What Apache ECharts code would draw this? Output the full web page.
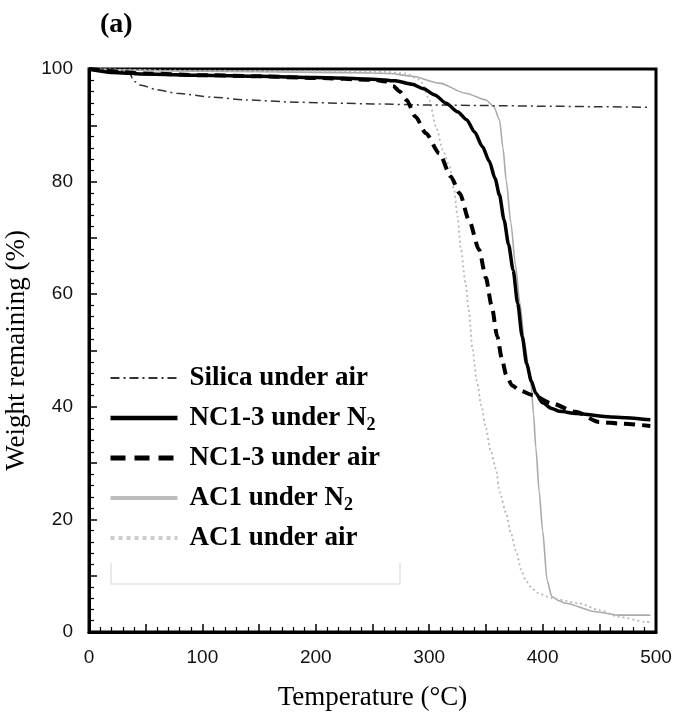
<!DOCTYPE html>
<html>
<head>
<meta charset="utf-8">
<script src="https://cdn.jsdelivr.net/npm/echarts@6/dist/echarts.min.js"></script>
<style>html,body{margin:0;padding:0;background:#fff}#c{width:684px;height:720px}</style>
</head>
<body>
<div id="c"></div>
<script>
// Temperature (°C), weight remaining (%)
const silicaAir = [[0,100],[20,99.7],[35,99.5],[40,97.8],[46,97.1],[60,96.3],[77,95.7],[109,95.0],[139,94.5],[183,94.1],[227,93.9],[250,93.8],[300,93.6],[350,93.5],[400,93.4],[450,93.3],[495,93.2]];
const nc13N2 = [[0,100],[20,99.4],[50,99.1],[100,98.9],[150,98.7],[200,98.5],[250,98.2],[270,97.9],[285,97.3],[295,96.5],[305,95.4],[315,93.9],[325,92.4],[333,91.0],[340,88.8],[347,86.2],[353,83.6],[358,80.6],[362,77.6],[366,73.2],[370,68.8],[374,64.3],[378,58.4],[382,52.5],[386,47.6],[390,44.6],[394,42.4],[400,40.7],[408,39.7],[415,39.2],[430,38.8],[460,38.2],[495,37.7]];
const nc13Air = [[0,100],[50,99.2],[100,98.9],[150,98.7],[200,98.4],[250,98.1],[262,97.8],[268,97.0],[274,96.0],[280,94.5],[288,91.5],[297,88.6],[309,85.0],[319,80.9],[327,77.9],[335,73.2],[344,67.9],[350,62.9],[355,58.0],[360,52.5],[364,48.6],[368,45.6],[373,43.8],[380,42.9],[391,42.1],[408,40.6],[429,39.1],[450,37.3],[470,37.0],[495,36.6]];
const ac1N2 = [[0,100],[100,99.6],[200,99.4],[250,99.3],[265,99.2],[285,98.7],[309,97.5],[332,95.7],[350,94.5],[357,93.3],[362,91.0],[365,86.0],[368,80.1],[372,72.7],[376,65.3],[380,58.4],[384,51.5],[388,46.6],[390,43.6],[392,38.7],[394,32.8],[397,24.9],[400,18.0],[404,9.2],[408,6.3],[415,5.5],[420,5.1],[447,3.6],[467,3.0],[495,3.0]];
const ac1Air = [[0,100],[100,99.7],[200,99.6],[260,99.5],[280,99.2],[290,98.2],[294,97.5],[300,94.5],[306,89.8],[312,85.6],[318,82.7],[322,78.5],[325,73.8],[328,67.9],[332,62.0],[335,57.0],[338,50.5],[342,44.6],[346,40.2],[350,36.2],[354,32.3],[359,28.9],[362,24.9],[368,21.0],[372,17.5],[377,14.1],[381,11.1],[385,9.2],[390,7.9],[395,7.0],[408,6.0],[432,5.1],[450,3.9],[467,2.7],[491,1.8],[495,1.7]];
const seriesNames = ['Silica under air','NC1-3 under N2','NC1-3 under air','AC1 under N2','AC1 under air'];
const xLabels = [0,100,200,300,400,500];
const yLabels = [0,20,40,60,80,100];

const chart = echarts.init(document.getElementById('c'), null, {renderer:'canvas'});
const serif = 'Liberation Serif';
const sans = 'Liberation Sans';
function mk(name, data, color, width, type, z) {
  return {name, type:'line', data, showSymbol:false, symbol:'none', smooth:0.25, smoothMonotone:'x',
    lineStyle:{color, width, type}, itemStyle:{color}, z, animation:false};
}
const hidden = {color:'rgba(0,0,0,0)', borderWidth:0, opacity:0};
chart.setOption({
  animation:false,
  backgroundColor:'#fff',
  grid:{left:89, right:28, top:69, bottom:88, outerBoundsMode:'none', containLabel:false,
    show:true, borderColor:'#000', borderWidth:3, backgroundColor:'transparent'},
  title:{text:'(a)', left:95, top:6, textStyle:{fontFamily:serif, fontWeight:'bold', fontSize:28, color:'#000'}},
  xAxis:{type:'value', min:0, max:500, interval:50,
    name:'Temperature (°C)', nameLocation:'middle', nameGap:52,
    nameTextStyle:{fontFamily:serif, fontSize:27, color:'#000'},
    axisLine:{show:true, lineStyle:{color:'#000', width:3}},
    axisTick:{show:true, inside:true, length:8, lineStyle:{color:'#000', width:1.5}},
    minorTick:{show:true, splitNumber:5, length:5, lineStyle:{color:'#000', width:1.2}},
    splitLine:{show:false},
    axisLabel:{margin:16, fontFamily:sans, fontSize:19, color:'#111',
      formatter:v => xLabels.indexOf(v) >= 0 ? String(v) : ''}
  },
  yAxis:{type:'value', min:0, max:100, interval:10,
    name:'Weight remaining (%)', nameLocation:'middle', nameGap:50,
    nameTextStyle:{fontFamily:serif, fontSize:27, color:'#000'},
    axisLine:{show:true, lineStyle:{color:'#000', width:3}},
    axisTick:{show:true, inside:true, length:8, lineStyle:{color:'#000', width:1.5}},
    minorTick:{show:true, splitNumber:5, length:5, lineStyle:{color:'#000', width:1.2}},
    splitLine:{show:false},
    axisLabel:{margin:16, fontFamily:sans, fontSize:19, color:'#111', padding:[0,0,10,0],
      formatter:v => yLabels.indexOf(v) >= 0 ? String(v) : ''}
  },
  legend:{orient:'vertical', left:108, top:358, padding:0, itemWidth:67, itemHeight:14, itemGap:0,
    itemStyle:hidden,
    textStyle:{fontFamily:serif, fontWeight:'bold', fontSize:27, color:'#000', lineHeight:40, padding:[0,0,0,7],
      rich:{sub:{fontFamily:serif, fontWeight:'bold', fontSize:18, color:'#000', padding:[14,0,0,0], lineHeight:40}}},
    formatter:n => n.replace(/N2$/, 'N{sub|2}'),
    data:[
      {name:seriesNames[0], itemStyle:hidden, lineStyle:{width:2, color:'#333', type:[9,4,2,4]}},
      {name:seriesNames[1], itemStyle:hidden, lineStyle:{width:4.5, color:'#000'}},
      {name:seriesNames[2], itemStyle:hidden, lineStyle:{width:5, color:'#000', type:[15,9]}},
      {name:seriesNames[3], itemStyle:hidden, lineStyle:{width:4, color:'#bdbdbd'}},
      {name:seriesNames[4], itemStyle:hidden, lineStyle:{width:4, color:'#cccccc', type:[4,4]}}
    ]
  },
  graphic:[
    {type:'polyline', z:1, shape:{points:[[111,563],[111,584],[400,584],[400,563]]}, style:{stroke:'#e4e4e4', lineWidth:1.5, fill:null}}
  ],
  series:[
    mk(seriesNames[3], ac1N2, '#aaaaaa', 1.6, 'solid', 2),
    mk(seriesNames[4], ac1Air, '#b8b8b8', 1.8, [2,3], 2),
    mk(seriesNames[0], silicaAir, '#333333', 1.5, [9,4,2,4], 3),
    mk(seriesNames[2], nc13Air, '#000000', 4, [11,7], 4),
    mk(seriesNames[1], nc13N2, '#000000', 3.5, 'solid', 5)
  ]
});
</script>
</body>
</html>
